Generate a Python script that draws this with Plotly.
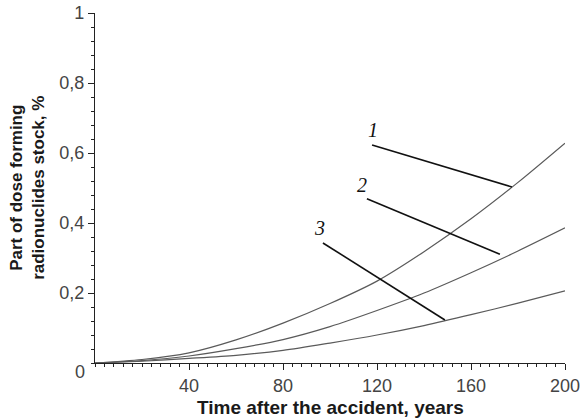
import plotly.graph_objects as go

# Data
years = [0, 20, 40, 60, 80, 100, 120, 140, 160, 180, 200]
curve1 = [0.0, 0.010, 0.029, 0.066, 0.114, 0.170, 0.234, 0.318, 0.412, 0.516, 0.628]
curve2 = [0.0, 0.007, 0.020, 0.041, 0.067, 0.104, 0.150, 0.200, 0.258, 0.320, 0.386]
curve3 = [0.0, 0.005, 0.013, 0.022, 0.036, 0.057, 0.080, 0.107, 0.138, 0.171, 0.206]

curve_names = ["1", "2", "3"]
# leader lines (callouts): [x0, y0, x1, y1] in data units
callout_lines = [
    [117.9, 0.623, 177.4, 0.503],
    [115.7, 0.469, 172.3, 0.311],
    [97.0, 0.343, 148.9, 0.123],
]
callout_labels = [(118.3, 0.666), (113.5, 0.509), (95.4, 0.385)]

y_tickvals = [0.2, 0.4, 0.6, 0.8, 1.0]
y_ticktext = ["0,2", "0,4", "0,6", "0,8", "1"]
x_tickvals = [40, 80, 120, 160, 200]
x_ticktext = ["40", "80", "120", "160", "200"]

fig = go.Figure()
for ys in (curve1, curve2, curve3):
    fig.add_trace(go.Scatter(x=years, y=ys, mode="lines",
                             line=dict(color="#5a5a5a", width=1.2, shape="spline", smoothing=0.8),
                             showlegend=False, hoverinfo="skip"))

shapes = []
for x0, y0, x1, y1 in callout_lines:
    shapes.append(dict(type="line", xref="x", yref="y", x0=x0, y0=y0, x1=x1, y1=y1,
                       line=dict(color="#111111", width=1.6)))

annotations = []
for name, (lx, ly) in zip(curve_names, callout_labels):
    annotations.append(dict(x=lx, y=ly, xref="x", yref="y", text="<i>" + name + "</i>",
                            showarrow=False,
                            font=dict(family="Liberation Serif", size=20, color="#111111"),
                            xanchor="center", yanchor="middle"))

annotations.append(dict(x=0.5, y=-0.127, xref="paper", yref="paper",
                        text="<b>Time after the accident, years</b>", showarrow=False,
                        font=dict(family="Liberation Sans", size=19, color="#1a1a1a"),
                        xanchor="center", yanchor="middle"))
annotations.append(dict(x=-0.145, y=0.5, xref="paper", yref="paper",
                        text="<b>Part of dose forming<br>radionuclides stock, %</b>", showarrow=False,
                        textangle=-90,
                        font=dict(family="Liberation Sans", size=17, color="#1a1a1a"),
                        xanchor="center", yanchor="middle"))
annotations.append(dict(x=-0.032, y=-0.026, xref="paper", yref="paper", text="0", showarrow=False,
                        font=dict(family="Liberation Sans", size=18, color="#444444"),
                        xanchor="center", yanchor="middle"))

fig.update_layout(
    width=583, height=419,
    margin=dict(l=95, r=18, t=13, b=56, autoexpand=False),
    plot_bgcolor="white", paper_bgcolor="white",
    shapes=shapes, annotations=annotations,
    xaxis=dict(range=[0, 200], showgrid=False, zeroline=False, showline=True, automargin=False,
               linecolor="#222222", linewidth=1.2,
               tickmode="array", tickvals=x_tickvals, ticktext=x_ticktext,
               ticks="outside", ticklen=6, tickwidth=1, tickcolor="#222222",
               minor=dict(dtick=4, tick0=0, ticks="outside", ticklen=3, tickcolor="#222222", showgrid=False),
               tickfont=dict(family="Liberation Sans", size=18, color="#444444")),
    yaxis=dict(range=[0, 1], showgrid=False, zeroline=False, showline=True, automargin=False,
               linecolor="#222222", linewidth=1.2,
               tickmode="array", tickvals=y_tickvals, ticktext=y_ticktext,
               ticks="outside", ticklen=6, tickwidth=1, tickcolor="#222222",
               minor=dict(dtick=0.04, tick0=0, ticks="outside", ticklen=3, tickcolor="#222222", showgrid=False),
               tickfont=dict(family="Liberation Sans", size=18, color="#444444")),
)

fig.write_html("out.html", config={"displayModeBar": False},
               post_script="document.body.style.margin='0';document.body.style.padding='0';")
